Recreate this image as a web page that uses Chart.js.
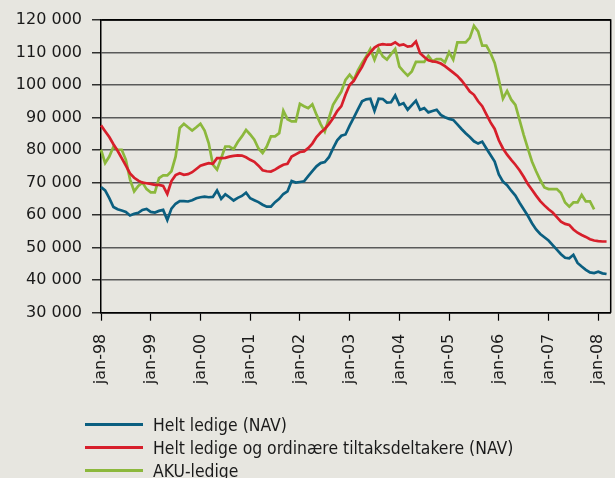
<!DOCTYPE html>
<html><head><meta charset="utf-8">
<script src="https://cdn.jsdelivr.net/npm/chart.js@4.4.1/dist/chart.umd.min.js"></script>
<style>
html,body{margin:0;padding:0;background:#e7e6e0;}
#wrap{position:relative;width:615px;height:478px;overflow:hidden;background:#e7e6e0;}
canvas{position:absolute;left:0;top:0;}
#legend{position:absolute;left:85px;top:413px;font-family:"DejaVu Sans Condensed","DejaVu Sans";font-size:17.4px;color:#1a1a1a;}
.row{display:flex;align-items:center;height:23px;white-space:nowrap;}
.sw{width:58px;height:3px;margin-right:10px;}
</style></head>
<body><div id="wrap"><canvas id="c" width="615" height="478"></canvas><div id="legend"></div></div>
<script>
const monthNames = ['jan','feb','mar','apr','mai','jun','jul','aug','sep','okt','nov','des'];
const categories = [];
for (let y = 1998; y <= 2008; y++) {
  for (let m = 0; m < 12; m++) {
    if (y === 2008 && m > 3) break;
    categories.push(monthNames[m] + '-' + String(y).slice(2));
  }
}
const yTickLabels = ['30 000','40 000','50 000','60 000','70 000','80 000','90 000','100 000','110 000','120 000'];
const seriesNames = ['Helt ledige (NAV)','Helt ledige og ordinære tiltaksdeltakere (NAV)','AKU-ledige'];

const heltLedige = [68.6,67.6,65.2,62.5,61.8,61.4,61.0,59.9,60.4,60.7,
61.6,61.9,61.0,60.8,61.3,61.6,58.5,62.0,63.5,64.3,
64.3,64.2,64.6,65.2,65.5,65.7,65.5,65.6,67.6,65.0,
66.4,65.5,64.5,65.3,65.9,66.9,65.2,64.6,64.0,63.2,
62.6,62.6,64.0,65.0,66.5,67.3,70.5,70.0,70.2,70.4,
72.0,73.5,75.0,76.0,76.3,77.8,80.5,83.0,84.4,84.8,
87.5,90.0,92.5,95.0,95.6,95.8,92.1,95.8,95.7,94.6,
94.7,96.8,93.9,94.4,92.4,93.8,95.2,92.4,92.9,91.6,
92.0,92.4,90.8,90.1,89.6,89.3,87.9,86.5,85.2,84.0,
82.7,82.0,82.6,80.5,78.5,76.5,72.5,70.3,69.2,67.5,
66.0,63.8,61.8,59.8,57.5,55.6,54.2,53.2,52.2,50.8,
49.4,48.0,46.9,46.7,47.8,45.3,44.2,43.2,42.4,42.2,
42.6,42.1,41.9];

const heltLedigeTiltak = [87.6,85.8,84.0,81.8,79.8,77.5,75.2,72.8,71.5,70.6,
70.0,69.8,69.6,69.3,69.3,69.0,66.5,70.5,72.3,72.9,
72.4,72.6,73.2,74.2,75.2,75.6,76.0,75.8,77.5,77.5,
77.6,78.0,78.2,78.4,78.3,77.8,77.0,76.4,75.2,73.8,
73.5,73.4,74.0,74.8,75.5,75.8,78.0,78.7,79.4,79.6,
80.6,82.0,84.0,85.4,86.5,88.0,89.8,92.0,93.5,97.0,
100.0,101.3,103.5,105.6,108.3,110.0,111.5,112.3,112.6,112.4,
112.4,113.1,112.2,112.5,111.8,112.0,113.4,109.8,108.6,107.6,
107.3,107.1,106.6,105.8,104.8,103.8,102.8,101.4,99.8,98.0,
97.0,95.0,93.5,91.0,88.5,86.5,83.0,80.5,78.6,77.0,
75.5,73.8,71.8,69.6,67.8,66.0,64.3,63.0,61.8,60.8,
59.4,58.0,57.3,57.0,55.6,54.6,53.9,53.3,52.6,52.2,
52.0,51.9,51.9];

const akuLedige = [80.1,76.0,78.0,81.0,80.1,80.1,77.0,71.0,67.3,69.0,
70.0,68.0,67.0,67.0,71.4,72.2,72.2,73.5,78.0,86.8,
88.1,87.0,86.0,87.0,88.1,86.0,82.1,75.5,74.0,77.5,
81.1,81.1,80.3,82.5,84.2,86.2,84.8,83.2,80.5,79.1,
81.1,84.2,84.2,85.2,92.1,89.5,88.8,88.8,94.2,93.5,
92.9,94.1,90.9,88.0,85.7,89.8,93.9,96.0,98.0,101.6,
103.2,101.6,104.5,106.8,108.8,111.1,107.8,111.1,108.8,107.8,
109.5,111.1,105.7,104.2,102.9,104.2,107.1,107.1,107.1,109.0,
107.3,108.0,108.0,107.0,110.1,107.8,113.1,113.1,113.1,114.5,
118.2,116.5,112.1,112.1,109.8,106.8,101.6,95.8,98.2,95.5,
93.9,89.3,84.7,80.5,76.5,73.5,70.8,68.5,68.0,68.0,
68.0,66.8,63.9,62.6,63.9,63.9,66.2,64.2,64.2,61.8];

const colors = ['#0b5f80','#d71f2b','#8cb83c'];

const toThousands = arr => arr.map(v => v * 1000);

Chart.defaults.font.family = '"DejaVu Sans", sans-serif';
Chart.defaults.font.size = 16;
Chart.defaults.color = '#1a1a1a';

const frame = {
  id: 'frame',
  afterDraw(chart) {
    const {ctx, chartArea: a} = chart;
    ctx.save();
    ctx.strokeStyle = '#000';
    ctx.lineWidth = 1.5;
    ctx.beginPath();
    ctx.moveTo(a.left, a.top);
    ctx.lineTo(a.right, a.top);
    ctx.lineTo(a.right, a.bottom);
    ctx.stroke();
    ctx.restore();
  }
};

const datasetsRaw = [heltLedige, heltLedigeTiltak, akuLedige];

const chart = new Chart(document.getElementById('c'), {
  type: 'line',
  data: {
    labels: categories,
    datasets: datasetsRaw.map((d, i) => ({
      label: seriesNames[i],
      data: toThousands(d),
      borderColor: colors[i],
      backgroundColor: colors[i],
      borderWidth: 2.7,
      pointRadius: 0,
      tension: 0,
      fill: false
    }))
  },
  options: {
    responsive: false,
    animation: false,
    devicePixelRatio: 1,
    layout: {padding: {left: 0, right: 4.3, top: 20, bottom: 0}},
    plugins: {legend: {display: false}, tooltip: {enabled: false}},
    scales: {
      x: {
        type: 'category',
        offset: false,
        afterBuildTicks: s => { s.ticks = s.ticks.filter(t => t.value % 12 === 0); },
        afterFit: s => { s.height = 165.3; s.paddingLeft = 0; s.paddingRight = 0; },
        ticks: {autoSkip: false, minRotation: 90, maxRotation: 90, padding: 13, font: {size: 16}},
        grid: {display: true, drawOnChartArea: false, drawTicks: true, tickLength: 8, tickColor: '#000', tickWidth: 1.2},
        border: {display: true, color: '#000', width: 1.5}
      },
      y: {
        min: 30000, max: 120000,
        afterFit: s => { s.width = 101; },
        ticks: {stepSize: 10000, padding: 10, font: {size: 16},
          callback: v => yTickLabels[Math.round((v - 30000) / 10000)]},
        grid: {
          color: c => (c.tick && (c.tick.value === 30000 || c.tick.value === 120000)) ? '#000' : '#5a5a5a',
          lineWidth: 1.6, tickLength: 9, tickColor: '#000', tickWidth: 1.2
        },
        border: {display: true, color: '#000', width: 1.5}
      }
    }
  },
  plugins: [frame]
});

const legend = document.getElementById('legend');
chart.data.datasets.forEach(ds => {
  const row = document.createElement('div');
  row.className = 'row';
  const sw = document.createElement('span');
  sw.className = 'sw';
  sw.style.background = ds.borderColor;
  const tx = document.createElement('span');
  tx.textContent = ds.label;
  row.appendChild(sw);
  row.appendChild(tx);
  legend.appendChild(row);
});
</script>
</body></html>
